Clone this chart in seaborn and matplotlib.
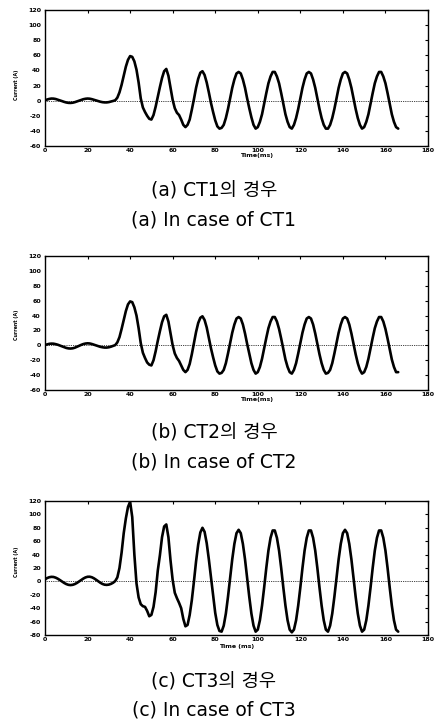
import matplotlib
matplotlib.use("Agg")
import matplotlib.pyplot as plt
import seaborn as sns
import pandas as pd

# ---------------- data ----------------
TIME_MS = list(range(0, 167))

CT1_CURRENT = [
    0.5, 1.5, 2.3, 2.8, 2.7, 2.2, 1.3, 0.4, -0.6, -1.6,
    -2.4, -2.9, -3.0, -2.7, -2.0, -1.0, 0.0, 1.0, 1.9, 2.5,
    2.8, 2.6, 2.0, 1.2, 0.3, -0.6, -1.4, -2.0, -2.3, -2.3,
    -1.9, -1.2, -0.4, 0.5, 4, 11, 21, 33, 45, 54,
    59, 58, 52, 41, 24, 3, -9, -15, -20, -24,
    -25, -19, -8, 5, 18, 30, 39, 42, 33, 17,
    1, -10, -16, -19, -25, -32, -35, -32, -25, -12,
    2, 17, 29, 37, 39, 34, 24, 11, -3, -15,
    -26, -34, -37, -36, -32, -23, -11, 3, 17, 28,
    36, 38, 36, 28, 17, 3, -10, -22, -32, -37,
    -35, -28, -18, -4, 10, 23, 32, 38, 38, 32,
    23, 10, -4, -18, -28, -35, -37, -32, -23, -11,
    3, 17, 28, 36, 38, 36, 28, 17, 3, -11,
    -23, -32, -37, -37, -32, -23, -11, 3, 17, 28,
    36, 38, 36, 28, 17, 3, -11, -23, -32, -37,
    -35, -28, -18, -4, 10, 23, 32, 38, 38, 32,
    23, 10, -4, -18, -28, -35, -37,
]

CT2_CURRENT = [
    0.5, 1.3, 2.0, 2.3, 2.2, 1.6, 0.8, -0.3, -1.5, -2.6,
    -3.5, -4.1, -4.3, -4.0, -3.2, -2.0, -0.7, 0.6, 1.7, 2.4,
    2.7, 2.5, 1.8, 0.9, -0.1, -1.1, -2.0, -2.6, -3.0, -3.0,
    -2.6, -1.8, -0.8, 0.3, 4, 11, 22, 34, 46, 55,
    59, 58, 51, 40, 23, 3, -10, -17, -23, -26,
    -27, -20, -8, 6, 19, 31, 39, 41, 32, 16,
    0, -11, -17, -21, -27, -33, -36, -33, -25, -12,
    3, 18, 30, 37, 39, 34, 24, 10, -4, -16,
    -27, -35, -38, -37, -33, -24, -11, 3, 17, 28,
    36, 38, 36, 28, 16, 2, -11, -24, -33, -38,
    -36, -29, -18, -4, 10, 23, 32, 38, 38, 32,
    22, 9, -5, -19, -29, -36, -38, -33, -24, -11,
    3, 17, 28, 36, 38, 36, 28, 16, 2, -12,
    -24, -33, -38, -37, -33, -24, -11, 3, 17, 28,
    36, 38, 36, 28, 16, 2, -12, -24, -33, -38,
    -36, -29, -18, -4, 10, 23, 32, 38, 38, 32,
    22, 9, -5, -19, -29, -36, -36,
]

CT3_CURRENT = [
    3, 5, 6.2, 6.8, 6.6, 5.6, 4.0, 2.0, -0.2, -2.3,
    -4.0, -5.1, -5.5, -5.1, -4.0, -2.3, -0.2, 2.0, 4.2, 5.9,
    6.9, 7.0, 6.2, 4.6, 2.5, 0.2, -2.0, -3.8, -4.9, -5.2,
    -4.8, -3.7, -2.0, 0.5, 6, 20, 43, 72, 94, 111,
    119, 96, 40, -3, -24, -34, -37, -38, -44, -52,
    -50, -38, -16, 16, 39, 66, 82, 85, 66, 31,
    2, -17, -25, -32, -40, -56, -67, -65, -50, -28,
    0, 30, 55, 73, 80, 74, 57, 33, 6, -22,
    -47, -65, -74, -75, -66, -48, -23, 5, 33, 56,
    72, 77, 72, 56, 33, 5, -23, -48, -66, -75,
    -72, -58, -36, -9, 20, 46, 65, 76, 76, 65,
    46, 20, -9, -36, -58, -72, -76, -72, -58, -36,
    -9, 20, 46, 65, 76, 76, 65, 46, 20, -9,
    -36, -58, -72, -75, -66, -48, -23, 5, 33, 56,
    72, 77, 72, 56, 33, 5, -23, -48, -66, -75,
    -72, -58, -36, -9, 20, 46, 65, 76, 76, 65,
    46, 20, -9, -36, -58, -72, -75,
]

X_TICKS = [0, 20, 40, 60, 80, 100, 120, 140, 160, 180]
Y_TICKS_AB = [-60, -40, -20, 0, 20, 40, 60, 80, 100, 120]
Y_TICKS_C = [-80, -60, -40, -20, 0, 20, 40, 60, 80, 100, 120]

CAPTIONS_KO = ["(a) CT1의 경우", "(b) CT2의 경우", "(c) CT3의 경우"]
CAPTIONS_EN = ["(a) In case of CT1", "(b) In case of CT2", "(c) In case of CT3"]
X_LABELS = ["Time(ms)", "Time(ms)", "Time (ms)"]
Y_LABEL = "Current (A)"

# ---------------- figure ----------------
sns.set_style("white")
plt.rcParams["font.family"] = ["DejaVu Sans", "Noto Sans CJK KR"]
plt.rcParams["text.color"] = "black"
plt.rcParams["axes.labelcolor"] = "black"

W, H = 434, 726
fig = plt.figure(figsize=(W / 100, H / 100), dpi=100)

panels = [
    dict(top=10, bottom=146, data=CT1_CURRENT, yticks=Y_TICKS_AB,
         xlab_x=0.551, xlab_y=-0.05, ylab_y=0.45, cap=(191, 220)),
    dict(top=256, bottom=390, data=CT2_CURRENT, yticks=Y_TICKS_AB,
         xlab_x=0.551, xlab_y=-0.05, ylab_y=0.485, cap=(433, 462)),
    dict(top=501, bottom=635, data=CT3_CURRENT, yticks=Y_TICKS_C,
         xlab_x=0.501, xlab_y=-0.07, ylab_y=0.545, cap=(682, 710)),
]
left_px, right_px = 45, 428

for i, p in enumerate(panels):
    ax = fig.add_axes([left_px / W, 1 - p["bottom"] / H,
                       (right_px - left_px) / W, (p["bottom"] - p["top"]) / H])
    df = pd.DataFrame({"Time (ms)": TIME_MS, "Current (A)": p["data"]})
    ax.axhline(0, color="black", lw=0.6, ls=(0, (1, 1.2)), zorder=1)
    sns.lineplot(data=df, x="Time (ms)", y="Current (A)", ax=ax, color="black",
                 linewidth=1.9, estimator=None, zorder=3)
    ax.set_xlim(0, 180)
    ax.set_ylim(p["yticks"][0], 120)
    ax.set_xticks(X_TICKS)
    ax.set_yticks(p["yticks"])
    ax.set_xticklabels([str(v) for v in X_TICKS])
    ax.set_yticklabels([str(v) for v in p["yticks"]])
    ax.tick_params(axis="both", direction="in", length=2.5, width=0.8,
                   top=True, right=True, labelsize=4.5, colors="black")
    ax.tick_params(axis="x", pad=1.2)
    ax.tick_params(axis="y", pad=3)
    for lab in ax.get_xticklabels() + ax.get_yticklabels():
        lab.set_fontweight("bold")
    for s in ax.spines.values():
        s.set_visible(True)
        s.set_color("black")
        s.set_linewidth(1.0)
    ax.set_xlabel(X_LABELS[i], fontsize=4.5, fontweight="bold", color="black")
    ax.xaxis.set_label_coords(p["xlab_x"], p["xlab_y"])
    ax.set_ylabel(Y_LABEL, fontsize=3.4, fontweight="bold", color="black")
    ax.yaxis.set_label_coords(-0.068, p["ylab_y"])
    ax.grid(False)

    fig.text(0.493, 1 - p["cap"][0] / H, CAPTIONS_KO[i], ha="center", va="center",
             fontsize=13.5, color="black")
    fig.text(0.493, 1 - p["cap"][1] / H, CAPTIONS_EN[i], ha="center", va="center",
             fontsize=13.5, color="black")

fig.savefig("out.png", dpi=100, facecolor="white")
